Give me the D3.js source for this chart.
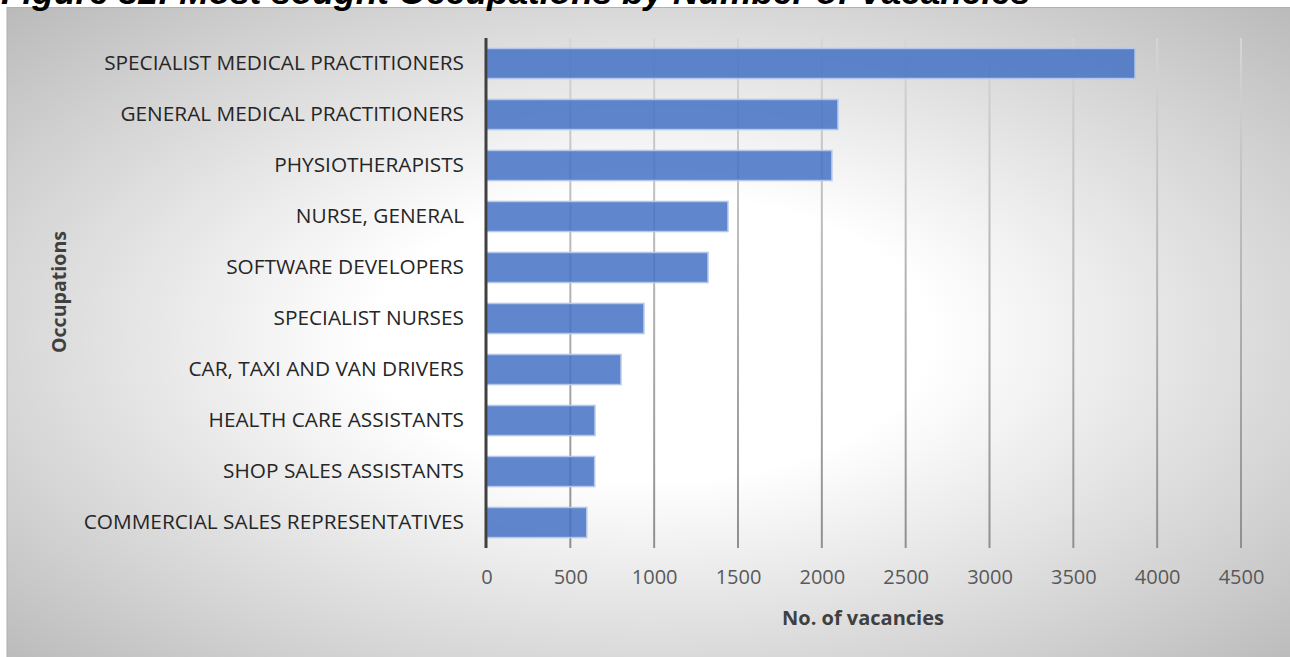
<!DOCTYPE html>
<html><head><meta charset="utf-8">
<script src="https://cdn.jsdelivr.net/npm/d3@7"></script>
<style>html,body{margin:0;padding:0;background:#fff;overflow:hidden}</style>
</head><body><svg id="c" width="1290" height="657"></svg>
<script>
const categories = ["SPECIALIST MEDICAL PRACTITIONERS","GENERAL MEDICAL PRACTITIONERS","PHYSIOTHERAPISTS","NURSE, GENERAL","SOFTWARE DEVELOPERS","SPECIALIST NURSES","CAR, TAXI AND VAN DRIVERS","HEALTH CARE ASSISTANTS","SHOP SALES ASSISTANTS","COMMERCIAL SALES REPRESENTATIVES"];
const vacancies = [3868, 2096, 2060, 1440, 1321, 939, 802, 647, 645, 598];
const xTicks = [0,500,1000,1500,2000,2500,3000,3500,4000,4500];
const titleText = "Figure 82: Most sought Occupations by Number of Vacancies";
const xTitle = "No. of vacancies";
const yTitle = "Occupations";

const svg = d3.select("#c");
const defs = svg.append("defs");
const rg = defs.append("radialGradient").attr("id","bg").attr("cx","50%").attr("cy","50%").attr("r","72%");
rg.append("stop").attr("offset","0%").attr("stop-color","#ffffff");
rg.append("stop").attr("offset","30%").attr("stop-color","#ffffff");
rg.append("stop").attr("offset","75%").attr("stop-color","#d2d2d2");
rg.append("stop").attr("offset","100%").attr("stop-color","#b8b8b8");
const gg = defs.append("linearGradient").attr("id","grid").attr("gradientUnits","userSpaceOnUse")
  .attr("x1",0).attr("y1",38).attr("x2",0).attr("y2",548);
gg.append("stop").attr("offset","0%").attr("stop-color","#d6d6d6");
gg.append("stop").attr("offset","100%").attr("stop-color","#8f8f8f");

svg.append("rect").attr("x",7).attr("y",7.5).attr("width",1290).attr("height",660)
  .attr("fill","url(#bg)").attr("stroke","#b0b0b0").attr("stroke-width",1);

// title (clipped at top of page, as in the reference)
const t = svg.append("text").attr("x",1).attr("y",4)
  .attr("font-family","Liberation Sans, Arial, sans-serif").attr("font-weight","bold").attr("font-style","italic")
  .attr("font-size",28).attr("fill","#000").text(titleText);
const tl = t.node().getComputedTextLength();
t.attr("font-size", 28*1030/tl);

const x = d3.scaleLinear().domain([0,4500]).range([486.5,1241]);
const y = d3.scaleBand().domain(categories).range([38,548]).paddingInner(0.41).paddingOuter(0.205);

// gridlines
svg.append("g").selectAll("line").data(xTicks.filter(d=>d>0)).join("line")
  .attr("x1",d=>x(d)).attr("x2",d=>x(d)).attr("y1",38).attr("y2",548)
  .attr("stroke","url(#grid)").attr("stroke-width",2);

// bars
svg.append("g").selectAll("rect").data(categories).join("rect")
  .attr("x",x(0)).attr("y",d=>y(d))
  .attr("width",(d,i)=>x(vacancies[i])-x(0)).attr("height",y.bandwidth())
  .attr("fill","#4472c4").attr("fill-opacity",0.85)
  .attr("stroke","#b4c7ea").attr("stroke-width",1.5);

// y axis line
svg.append("line").attr("x1",486).attr("x2",486).attr("y1",38).attr("y2",548)
  .attr("stroke","#404040").attr("stroke-width",3);

// category labels
const yAxis = svg.append("g").attr("transform","translate(486,0)")
  .call(d3.axisLeft(y).tickSize(0).tickPadding(22));
yAxis.select(".domain").remove();
yAxis.selectAll("text").attr("font-family","Open Sans, sans-serif").attr("font-size",20.8).attr("fill","#262626");

// x tick labels
const xAxis = svg.append("g").attr("transform","translate(0,548)")
  .call(d3.axisBottom(x).tickValues(xTicks).tickSize(0).tickPadding(22).tickFormat(d3.format("d")));
xAxis.select(".domain").remove();
xAxis.selectAll("text").attr("font-family","Open Sans, sans-serif").attr("font-size",20).attr("fill","#595959");

svg.append("text").attr("x",863).attr("y",625).attr("text-anchor","middle")
  .attr("font-family","Open Sans, sans-serif").attr("font-weight","bold").attr("font-size",20).attr("fill","#404040").text(xTitle);
svg.append("text").attr("transform","translate(66,292) rotate(-90)").attr("text-anchor","middle")
  .attr("font-family","Open Sans, sans-serif").attr("font-weight","bold").attr("font-size",19.6).attr("fill","#404040").text(yTitle);
</script></body></html>
